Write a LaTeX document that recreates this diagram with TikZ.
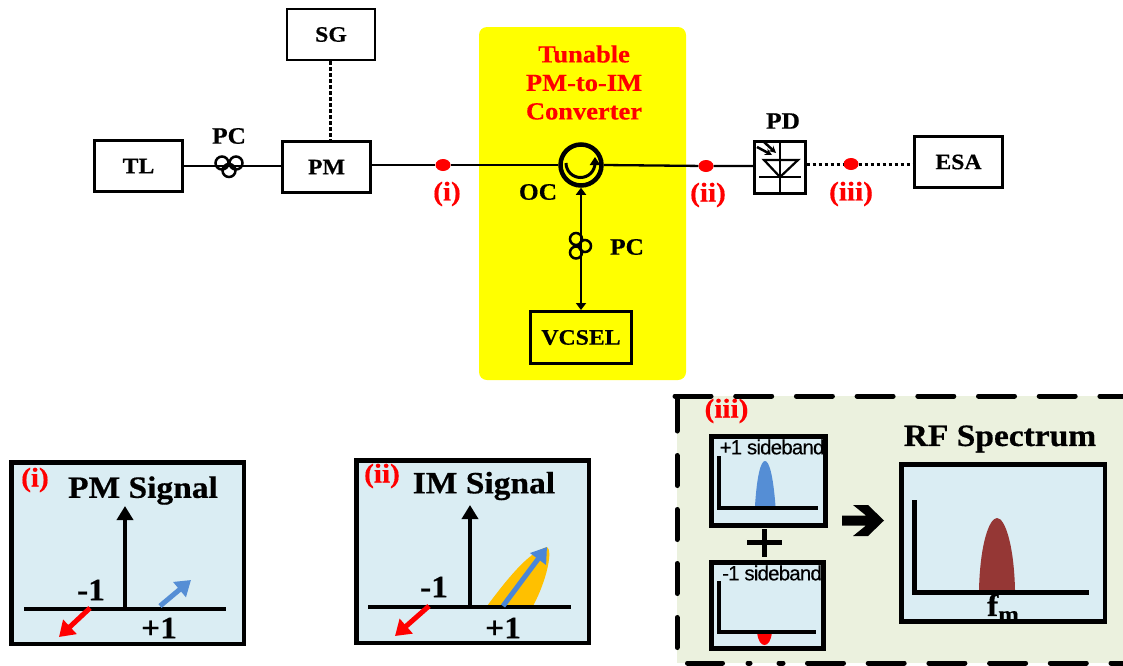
\documentclass[tikz,border=0pt]{standalone}
\usepackage{fontspec}
\setmainfont[FakeStretch=1.08,BoldFeatures={FakeBold=0.5}]{Liberation Serif}
\newfontfamily\sidefont[LetterSpace=-4,FakeBold=0.3]{Liberation Sans}
\usetikzlibrary{arrows.meta,shapes.geometric}
\definecolor{brightyellow}{HTML}{FFFF00}
\definecolor{brightred}{HTML}{FF0000}
\definecolor{panelblue}{HTML}{DAEDF3}
\definecolor{panelgreen}{HTML}{EBF1DE}
\definecolor{sideblue}{HTML}{558ED5}
\definecolor{imblue}{HTML}{4A86D8}
\definecolor{rfbrown}{HTML}{953735}
\definecolor{gold}{HTML}{FFC000}
\tikzset{
  devbox/.style={draw,line width=2.2pt,minimum width=88pt,minimum height=51pt,inner sep=0pt,font=\fontsize{22}{24}\selectfont\bfseries},
  lab/.style={inner sep=0pt,font=\fontsize{23.5}{26}\selectfont\bfseries},
  redlab/.style={inner sep=0pt,text=brightred,font=\fontsize{27}{30}\selectfont\bfseries},
  reddot/.style={ellipse,fill=brightred,minimum width=15pt,minimum height=12pt,inner sep=0pt},
  fibre/.style={line width=2.3pt},
  dots/.style={line width=3pt,dash pattern=on 3.5pt off 2.5pt},
  panel/.style={draw,fill=panelblue},
  title/.style={inner sep=0pt,font=\fontsize{31}{34}\selectfont\bfseries},
  axis/.style={line width=4.5pt},
  sidelab/.style={inner sep=0pt,font=\sidefont\fontsize{20.5}{24}\selectfont},
  bigtip/.style={-{Triangle[length=14pt,width=16pt]}},
  smalltip/.style={{Triangle[length=7pt,width=10pt]}-{Triangle[length=7pt,width=10pt]}},
  sidetip/.style={line width=5pt,-{Triangle[length=15pt,width=19pt]}},
  border/.style={line width=5pt,line cap=round}
}
\begin{document}
\begin{tikzpicture}[x=1pt,y=-1pt]
\useasboundingbox (0,0) rectangle (1123,665);
\fill[brightyellow,rounded corners=8pt] (479,27) rectangle (686,380);
%
\node[devbox] (tl) at (138.5,166) {TL};
\node[devbox] (pm) at (326.5,167) {PM};
\node[devbox] (sg) at (331,34.5) {SG};
\node[devbox] (esa) at (958.5,162) {ESA};
\node[draw,line width=3pt,minimum width=101pt,minimum height=52pt,inner sep=0pt,font=\fontsize{22}{24}\selectfont\bfseries] (vcsel) at (581,337.5) {VCSEL};
\node[draw,line width=4.5pt,circle,minimum size=41pt,inner sep=0pt] (oc) at (581,165) {};
\node[draw,line width=2.2pt,minimum width=51pt,minimum height=52pt,inner sep=0pt] (pd) at (780,167.5) {};
\node[reddot] (doti) at (443,165) {};
\node[reddot] (dotii) at (706,166) {};
\node[reddot] (dotiii) at (851,164) {};
%
\draw[fibre] (tl.east) -- (pm.west |- tl.east);
\draw[fibre] (pm.east |- oc.west) -- (doti) -- (oc.west);
\draw[fibre] (oc.east) -- (dotii) -- (pd.west |- dotii);
\draw[dots] (sg.south -| 330,0) -- (330,141);
\draw[dots] (pd.east |- dotiii) -- (dotiii) -- (esa.west |- dotiii);
\draw[fibre,smalltip] (oc.south) -- (vcsel.north);
%
\draw[line width=2.5pt] (222,163) circle (6.5) (236,163) circle (6.5) (229,170.5) circle (6.5);
\draw[line width=2.5pt] (576,239) circle (6) (585,246) circle (6) (576,252.5) circle (6);
\draw[line width=3pt,-{Triangle[length=8pt,width=10pt]}] (566,163) arc (180:0:14.5) -- (595,157);
%
\draw[line width=2.2pt] (780,141) -- (780,194);
\draw[line width=2.2pt] (764,160) -- (798,160) -- (780,177) -- cycle;
\draw[line width=2.2pt] (759,177) -- (801,177);
\draw[line width=2.5pt,-{Stealth[length=7pt,width=7pt]}] (757,147) -- (772,155);
\draw[line width=2.5pt,-{Stealth[length=7pt,width=7pt]}] (764,142) -- (776,153);
%
\node[lab] (pclabel) at (229,136) {PC};
\node[lab] (oclabel) at (538,192) {OC};
\node[lab] (pcright) at (627,247) {PC};
\node[lab] (pdlabel) at (783,121) {PD};
\node[redlab] (ilabel) at (447,194) {(i)};
\node[redlab] (iilabel) at (708,195) {(ii)};
\node[redlab] (iiilabel) at (851,194) {(iii)};
\node[redlab,align=center,font=\fontsize{24.5}{28.5}\selectfont\bfseries] (conv) at (584,82.5) {Tunable\\PM-to-IM\\Converter};
%
\draw[panel,line width=4.5pt] (11.5,462.5) rectangle (244,644);
\draw[axis] (24,609) -- (226,609);
\draw[axis,bigtip] (125,609) -- (125,506);
\draw[sidetip,brightred] (90,608) -- (59,637);
\draw[sidetip,sideblue] (160,606) -- (191,580);
\node[redlab] (pmtag) at (35,480) {(i)};
\node[title] (pmtitle) at (143,490.5) {PM Signal};
\node[title] (pmminus) at (91,590) {-1};
\node[title] (pmplus) at (159,628) {+1};
%
\draw[panel,line width=4.5pt] (356.5,460.5) rectangle (589,643);
\fill[gold] (487,606) .. controls (505,582) and (528,552) .. (547,547) .. controls (553,550) and (547,580) .. (533,606) -- cycle;
\draw[axis] (368,607) -- (571,607);
\draw[axis,bigtip] (470,607) -- (470,505);
\draw[sidetip,brightred] (429,606) -- (395,636);
\draw[sidetip,imblue] (503,606) -- (547,547);
\node[redlab] (imtag) at (382,476) {(ii)};
\node[title] (imtitle) at (484,486) {IM Signal};
\node[title] (imminus) at (434,587) {-1};
\node[title] (implus) at (503,628) {+1};
%
\fill[panelgreen] (677,396) rectangle (1123,663);
\draw[border,dash pattern=on 36pt off 24.7pt] (675,396) -- (1123,396);
\draw[border] (677,398) -- (677,431);
\draw[border,dash pattern=on 30pt off 24pt] (677,455.5) -- (677,660);
\draw[border] (687.5,663) -- (722.5,663) (748,663) -- (750,663) (779,663) -- (783,663);
\draw[border,dash pattern=on 36pt off 24.7pt] (807.5,663) -- (1123,663);
\node[redlab] (spectag) at (726.5,411) {(iii)};
%
\draw[panel,line width=5pt] (711.5,436.5) rectangle (825.5,525.5);
\fill[sideblue] (755,506) .. controls (757,474) and (761,461) .. (765,461) .. controls (769,461) and (773,474) .. (775.5,506) -- cycle;
\draw[axis] (719,456) -- (719,508) -- (818,508);
\node[sidelab] (plusside) at (772,447) {+1 sideband};
\draw[panel,line width=5pt] (711.5,562.5) rectangle (823.5,648.5);
\fill[brightred] (757,632) .. controls (758,641) and (761,645) .. (764.5,645) .. controls (768,645) and (771,641) .. (772,632) -- cycle;
\draw[axis] (719,581) -- (719,632) -- (816,632);
\node[sidelab] (minusside) at (772,573) {-1 sideband};
\draw[line width=5pt] (747,542) -- (782,542) (764,529) -- (764,557);
\fill (842,515.5) -- (866,515.5) -- (853,505) -- (868,505) -- (884,520.5) -- (868,536) -- (853,536) -- (866,525.5) -- (842,525.5) -- cycle;
%
\node[title] (rftitle) at (1000,439) {RF Spectrum};
\draw[panel,line width=4.5pt] (901.5,464.5) rectangle (1105,621.5);
\fill[rfbrown] (979,590) .. controls (980,545) and (989,518) .. (997,518) .. controls (1005,518) and (1014,545) .. (1015,590) -- cycle;
\draw[axis,line width=5pt] (914,500) -- (914,592) -- (1089,592);
\node[title] (fm) at (1003,608) {f\raisebox{-6pt}{\fontsize{23}{26}\selectfont m}};
\end{tikzpicture}
\end{document}
